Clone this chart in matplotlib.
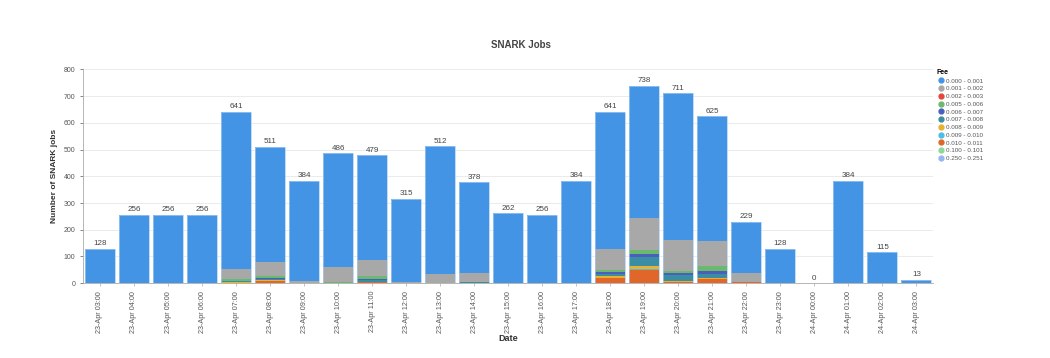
import numpy as np
import matplotlib
matplotlib.use("Agg")
import matplotlib.pyplot as plt
from matplotlib.lines import Line2D

plt.rcParams["font.family"] = ["Liberation Sans", "DejaVu Sans"]

# hourly buckets
dates = ["23-Apr 03:00", "23-Apr 04:00", "23-Apr 05:00", "23-Apr 06:00", "23-Apr 07:00",
         "23-Apr 08:00", "23-Apr 09:00", "23-Apr 10:00", "23-Apr 11:00", "23-Apr 12:00",
         "23-Apr 13:00", "23-Apr 14:00", "23-Apr 15:00", "23-Apr 16:00", "23-Apr 17:00",
         "23-Apr 18:00", "23-Apr 19:00", "23-Apr 20:00", "23-Apr 21:00", "23-Apr 22:00",
         "23-Apr 23:00", "24-Apr 00:00", "24-Apr 01:00", "24-Apr 02:00", "24-Apr 03:00"]
totals = [128, 256, 256, 256, 641, 511, 384, 486, 479, 315, 512, 378, 262, 256, 384,
          641, 738, 711, 625, 229, 128, 0, 384, 115, 13]

fee_labels = ["0.000 - 0.001", "0.001 - 0.002", "0.002 - 0.003", "0.005 - 0.006",
              "0.006 - 0.007", "0.007 - 0.008", "0.008 - 0.009", "0.009 - 0.010",
              "0.010 - 0.011", "0.100 - 0.101", "0.250 - 0.251"]
fee_colors = ["#4394e5", "#a8a8a8", "#e5463b", "#6cb86c", "#4a5fbd", "#3a8da2",
              "#e8b22e", "#4cbde6", "#e0662a", "#8fd79b", "#93b8ef"]

# smaller fee buckets per hour (the 0.000-0.001 part is the remainder)
fee_001 = [0, 0, 0, 0, 40, 50, 8, 55, 60, 5, 33, 33, 0, 0, 0, 80, 117, 115, 94, 31, 0, 0, 0, 0, 0]
fee_002 = [0, 0, 0, 0, 0, 0, 0, 0, 0, 0, 0, 0, 0, 0, 0, 1, 1, 0, 1, 0, 0, 0, 0, 0, 0]
fee_005 = [0, 0, 0, 0, 4, 8, 0, 3, 10, 0, 1, 1, 0, 0, 0, 8, 16, 10, 19, 2, 0, 0, 0, 0, 0]
fee_006 = [0, 0, 0, 0, 2, 3, 0, 0, 4, 0, 0, 1, 0, 0, 0, 5, 10, 6, 10, 0, 0, 0, 0, 0, 0]
fee_007 = [0, 0, 0, 0, 5, 5, 1, 1, 6, 1, 1, 4, 0, 0, 0, 10, 34, 22, 14, 1, 0, 0, 0, 0, 0]
fee_008 = [0, 0, 0, 0, 1, 3, 0, 0, 2, 0, 0, 0, 0, 0, 0, 6, 12, 3, 3, 0, 0, 0, 0, 0, 0]
fee_009 = [0, 0, 0, 0, 1, 1, 0, 0, 1, 0, 0, 0, 0, 0, 0, 1, 2, 1, 1, 0, 0, 0, 0, 0, 0]
fee_010 = [0, 0, 0, 0, 1, 8, 0, 0, 3, 0, 0, 0, 0, 0, 0, 18, 50, 4, 16, 3, 0, 0, 0, 0, 0]
fee_100 = [0, 0, 0, 0, 0, 0, 0, 1, 0, 0, 0, 0, 0, 0, 0, 0, 1, 1, 0, 0, 0, 0, 0, 0, 0]
fee_250 = [0, 0, 0, 0, 0, 0, 0, 0, 0, 0, 0, 0, 0, 0, 0, 0, 0, 0, 0, 0, 0, 0, 0, 0, 0]

others = [fee_001, fee_002, fee_005, fee_006, fee_007, fee_008, fee_009, fee_010, fee_100, fee_250]
fee_000 = list(np.array(totals) - np.sum(others, axis=0))
series = [fee_000] + others  # same order as fee_labels

fig = plt.figure(figsize=(10.5, 3.58), dpi=100)
ax = fig.add_axes([0.079, 0.209, 0.810, 0.597])

x = np.arange(len(dates))
bottom = np.zeros(len(dates))
# stack highest fee at the bottom, cheapest on top
for i in range(len(series) - 1, -1, -1):
    vals = np.array(series[i], dtype=float)
    ax.bar(x, vals, width=0.88, bottom=bottom, color=fee_colors[i],
           linewidth=0, zorder=3)
    bottom += vals
# thin light outline round each full bar
ax.bar(x, totals, width=0.88, fill=False, edgecolor="#a9cdf3", linewidth=0.5, zorder=4)

for xi, t in zip(x, totals):
    ax.text(xi, t + 6, str(t), ha="center", va="bottom", fontsize=5.8, color="#444444")

ax.set_xlim(-0.5, len(dates) - 0.5)
ax.set_ylim(0, 800)
ax.set_yticks(range(0, 801, 100))
ax.set_xticks(x)
ax.set_xticklabels(dates, rotation=90, fontsize=5.2, color="#555555")
ax.tick_params(axis="y", labelsize=5, colors="#555555", length=2, width=0.5)
ax.tick_params(axis="x", length=2, width=0.5, color="#aaaaaa")
ax.grid(axis="y", color="#e8e8e8", linewidth=0.6, zorder=0)
for s in ["top", "right"]:
    ax.spines[s].set_visible(False)
ax.spines["left"].set_color("#aaaaaa")
ax.spines["bottom"].set_color("#aaaaaa")
ax.spines["left"].set_linewidth(0.6)
ax.spines["bottom"].set_linewidth(0.6)

ax.set_ylabel("Number of SNARK jobs", fontsize=6, fontweight="bold", color="#333333", labelpad=4)
ax.set_xlabel("Date", fontsize=6.5, fontweight="bold", color="#333333", labelpad=1)
fig.text(0.496, 0.873, "SNARK Jobs", ha="center", va="center", fontsize=7,
         fontweight="bold", color="#444444")

handles = [Line2D([0], [0], marker="o", linestyle="", markersize=3.5,
                  markerfacecolor=c, markeredgecolor=c) for c in fee_colors]
leg = fig.legend(handles, fee_labels, title="Fee", loc="upper left",
                 bbox_to_anchor=(0.888, 0.82), frameon=False, fontsize=4.5,
                 title_fontsize=5, handletextpad=0.2, labelspacing=0.38,
                 borderpad=0.2, handlelength=1.2)
leg.get_title().set_fontweight("bold")
leg._legend_box.align = "left"
for t in leg.get_texts():
    t.set_color("#555555")

fig.savefig("out.png", dpi=100)
